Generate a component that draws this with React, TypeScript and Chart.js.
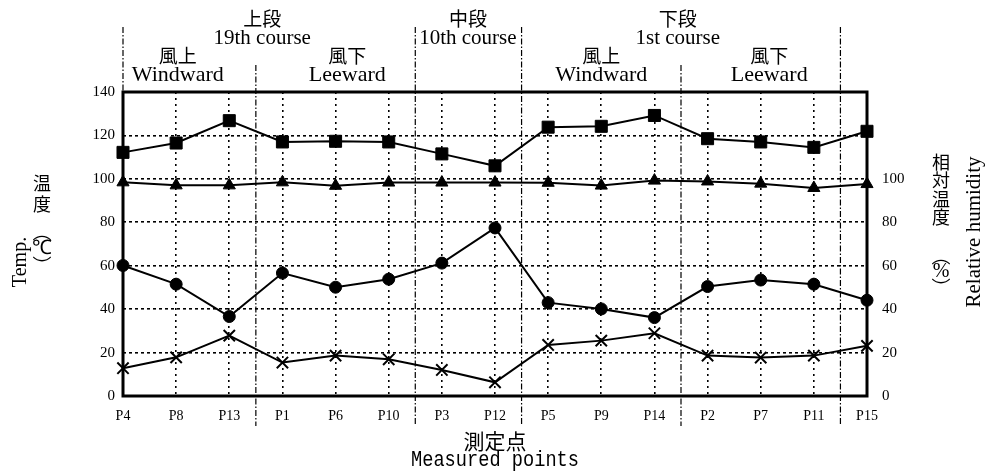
import React, { useEffect, useRef } from "react";
import { Chart, registerables } from "chart.js";

Chart.register(...registerables);

const categories = ["P4", "P8", "P13", "P1", "P6", "P10", "P3", "P12", "P5", "P9", "P14", "P2", "P7", "P11", "P15"];
const squareSeries = [112.2, 116.5, 126.8, 117, 117.3, 117, 111.5, 106, 123.8, 124.2, 129.2, 118.5, 117, 114.5, 121.9];
const triangleSeries = [98.4, 97, 97, 98.4, 96.8, 98.3, 98.3, 98.3, 98.2, 96.9, 99.2, 98.8, 97.8, 95.8, 97.6];
const circleSeries = [60.1, 51.5, 36.6, 56.6, 50.1, 53.8, 61.2, 77.4, 43, 40.1, 36.1, 50.4, 53.4, 51.5, 44.1];
const crossSeries = [12.8, 17.8, 27.8, 15.4, 18.6, 16.9, 12, 6.3, 23.5, 25.5, 28.9, 18.6, 17.7, 18.6, 23.1];
const leftTicksMax = 140;
const rightTicksMax = 100;

// group boundaries (in category index units) and header labels
const majorDividers = [0, 5.5, 7.5, 13.5];
const minorDividers = [2.5, 10.5];
const courseLabels = [
  { at: 2.62, jp: "上段", en: "19th course" },
  { at: 6.49, jp: "中段", en: "10th course" },
  { at: 10.44, jp: "下段", en: "1st course" },
];
const sideLabels = [
  { at: 1.03, jp: "風上", en: "Windward" },
  { at: 4.22, jp: "風下", en: "Leeward" },
  { at: 9.0, jp: "風上", en: "Windward" },
  { at: 12.16, jp: "風下", en: "Leeward" },
];
const leftTitleJp = ["温", "度"];
const leftUnit = ["︵", "℃", "︶"];
const rightTitleJp = ["相", "対", "温", "度"];
const rightUnit = ["︵", "%", "︶"];

const SERIF = "'Liberation Serif', 'Times New Roman', serif";
const CJK = "'Noto Sans CJK JP', 'Noto Sans CJK SC', sans-serif";

const decorPlugin = {
  id: "decor",
  beforeDatasetsDraw(chart: any) {
    const ctx = chart.ctx;
    const xs = chart.scales.x;
    const area = chart.chartArea;
    ctx.save();
    ctx.strokeStyle = "#000";
    ctx.lineWidth = 1.2;
    ctx.setLineDash([6, 2, 1.5, 2]);
    const drawDiv = (k: number, top: number) => {
      const x = xs.getPixelForValue(k);
      ctx.beginPath();
      ctx.moveTo(x, top);
      ctx.lineTo(x, k === 0 ? area.top : area.bottom + 30);
      ctx.stroke();
    };
    majorDividers.forEach((k) => drawDiv(k, 27));
    minorDividers.forEach((k) => drawDiv(k, 65));
    ctx.setLineDash([]);
    ctx.lineWidth = 3;
    ctx.strokeRect(area.left, area.top, area.right - area.left, area.bottom - area.top);
    ctx.restore();
  },
  afterDraw(chart: any) {
    const ctx = chart.ctx;
    const xs = chart.scales.x;
    const area = chart.chartArea;
    ctx.save();
    ctx.fillStyle = "#000";
    ctx.textAlign = "center";
    ctx.textBaseline = "middle";
    courseLabels.forEach((c) => {
      const x = xs.getPixelForValue(c.at);
      ctx.font = `19px ${CJK}`;
      ctx.fillText(c.jp, x, 19);
      ctx.font = `21px ${SERIF}`;
      ctx.fillText(c.en, x, 38);
    });
    sideLabels.forEach((c) => {
      const x = xs.getPixelForValue(c.at);
      ctx.font = `19px ${CJK}`;
      ctx.fillText(c.jp, x, 56);
      ctx.font = `22px ${SERIF}`;
      ctx.fillText(c.en, x, 75);
    });
    // bottom title
    const cx = (area.left + area.right) / 2;
    ctx.font = `21px ${CJK}`;
    ctx.fillText("測定点", cx, 441);
    ctx.font = `21px 'Liberation Mono', monospace`;
    const mw = ctx.measureText("Measured points").width;
    ctx.save();
    ctx.translate(cx, 460);
    ctx.scale(168 / mw, 1.05);
    ctx.fillText("Measured points", 0, 0);
    ctx.restore();

    // left axis title
    ctx.save();
    ctx.translate(21, 262);
    ctx.rotate(-Math.PI / 2);
    ctx.font = `20px ${SERIF}`;
    ctx.fillText("Temp.", 0, 0);
    ctx.restore();
    ctx.font = `18px ${CJK}`;
    leftTitleJp.forEach((ch, i) => ctx.fillText(ch, 42, 183 + i * 21));
    ctx.font = `19px ${CJK}`;
    ctx.fillText(leftUnit[0], 42, 232);
    ctx.font = `20px ${SERIF}`;
    ctx.fillText(leftUnit[1], 42, 249);
    ctx.font = `19px ${CJK}`;
    ctx.fillText(leftUnit[2], 42, 266);

    // right axis title
    ctx.font = `18px ${CJK}`;
    rightTitleJp.forEach((ch, i) => ctx.fillText(ch, 941, 162 + i * 18.5));
    ctx.font = `19px ${CJK}`;
    ctx.fillText(rightUnit[0], 941, 256);
    ctx.font = `20px ${SERIF}`;
    ctx.fillText(rightUnit[1], 941, 272);
    ctx.font = `19px ${CJK}`;
    ctx.fillText(rightUnit[2], 941, 288);
    ctx.save();
    ctx.translate(974, 232);
    ctx.rotate(-Math.PI / 2);
    ctx.font = `21px ${SERIF}`;
    ctx.fillText("Relative humidity", 0, 0);
    ctx.restore();
    ctx.restore();
  },
};

export default function App() {
  const ref = useRef<HTMLCanvasElement | null>(null);
  useEffect(() => {
    if (!ref.current) return;
    const lineDs = (data: number[], style: string, radius: number, extra: any = {}) => ({
      data,
      borderColor: "#000",
      borderWidth: 2,
      backgroundColor: "#000",
      pointBackgroundColor: "#000",
      pointBorderColor: "#000",
      pointStyle: style,
      pointRadius: radius,
      pointBorderWidth: 1,
      tension: 0,
      clip: false as any,
      yAxisID: "y",
      ...extra,
    });
    const chart = new Chart(ref.current, {
      type: "line",
      data: {
        labels: categories,
        datasets: [
          lineDs(squareSeries, "rect", 8.5),
          lineDs(triangleSeries, "triangle", 7),
          lineDs(circleSeries, "circle", 6),
          lineDs(crossSeries, "crossRot", 8, { pointBorderWidth: 2 }),
        ],
      },
      options: {
        responsive: false,
        animation: false,
        layout: { padding: { top: 92, left: 0, right: 0, bottom: 0 } },
        plugins: { legend: { display: false }, tooltip: { enabled: false } },
        scales: {
          x: {
            type: "category",
            offset: false,
            grid: {
              color: (c: any) => (c.index === 0 || c.index === categories.length - 1 ? "rgba(0,0,0,0)" : "#000"),
              lineWidth: 1.6,
              drawTicks: false,
            },
            border: { display: false, dash: [2, 4] },
            ticks: {
              color: "#000",
              font: { family: SERIF, size: 14 },
              padding: 12,
              maxRotation: 0,
              autoSkip: false,
            },
            afterFit: (s: any) => {
              s.height = 79;
            },
          },
          y: {
            position: "left",
            min: 0,
            max: leftTicksMax,
            grid: {
              color: (c: any) => (c.tick && (c.tick.value === 0 || c.tick.value === leftTicksMax) ? "rgba(0,0,0,0)" : "#000"),
              lineWidth: 1.6,
              drawTicks: false,
            },
            border: { display: false, dash: [3, 3] },
            ticks: {
              stepSize: 20,
              color: "#000",
              font: { family: SERIF, size: 15 },
              padding: 8,
            },
            afterFit: (s: any) => {
              s.width = 123;
            },
          },
          y2: {
            position: "right",
            min: 0,
            max: leftTicksMax,
            grid: { display: false, drawTicks: false },
            border: { display: false },
            ticks: {
              stepSize: 20,
              color: "#000",
              font: { family: SERIF, size: 15 },
              padding: 15,
            },
            afterBuildTicks: (s: any) => {
              s.ticks = s.ticks.filter((t: any) => t.value <= rightTicksMax);
            },
            afterFit: (s: any) => {
              s.width = 121;
            },
          },
        },
      } as any,
      plugins: [decorPlugin],
    });
    return () => chart.destroy();
  }, []);
  return (
    <div style={{ position: "absolute", left: 0, top: 0, width: 988, height: 475, background: "#fff" }}>
      <canvas ref={ref} width={988} height={475} style={{ display: "block", width: 988, height: 475 }} />
    </div>
  );
}
